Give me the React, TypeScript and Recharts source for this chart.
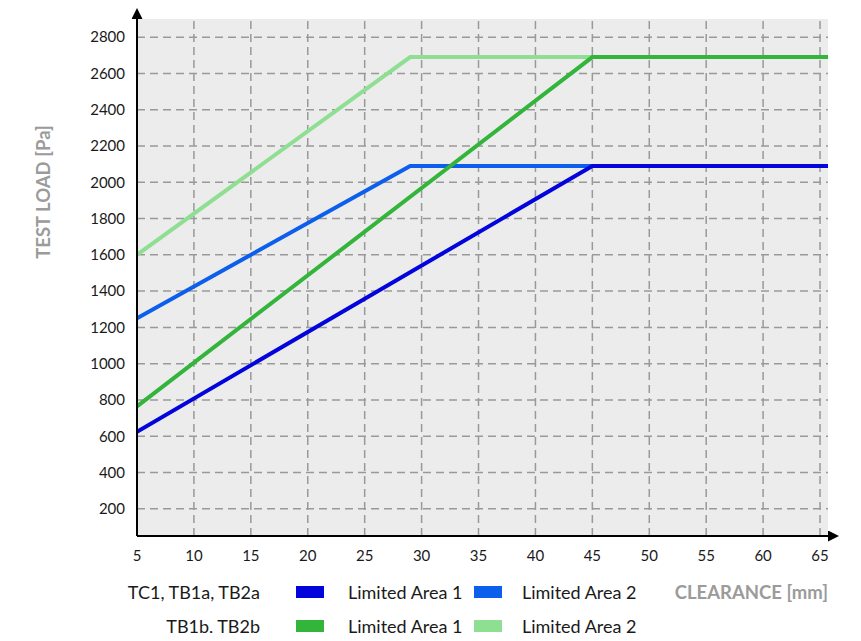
import React from 'react';
import { LineChart, Line, XAxis, YAxis, CartesianGrid, ReferenceLine } from 'recharts';

// clearance [mm] at the corners of each curve
const clearanceArea1 = [5, 45, 65.7];
const clearanceArea2 = [5, 29, 65.7];

// test load [Pa] at those corners
const tc1Area1Load = [625, 2090, 2090];
const tc1Area2Load = [1250, 2090, 2090];
const tb1bArea1Load = [765, 2690, 2690];
const tb1bArea2Load = [1600, 2690, 2690];

const xTicks = [5, 10, 15, 20, 25, 30, 35, 40, 45, 50, 55, 60, 65];
const yTicks = [200, 400, 600, 800, 1000, 1200, 1400, 1600, 1800, 2000, 2200, 2400, 2600, 2800];

const COLORS = {
    tc1Area1: '#0303dc',
    tc1Area2: '#0b5fec',
    tb1bArea1: '#33b43a',
    tb1bArea2: '#8edf92',
};

const toPoints = (xs: number[], ys: number[]) => xs.map((x, i) => ({ x, y: ys[i] }));

const FONT = 'Lato, "Open Sans", sans-serif';
const GREY = '#9b9b9b';
const GRID = { stroke: '#999', strokeWidth: 1.5, strokeDasharray: '8 5' };

const labelStyle: React.CSSProperties = {
    position: 'absolute',
    fontSize: 18,
    lineHeight: '20px',
    height: 20,
    color: '#1a1a1a',
    whiteSpace: 'nowrap',
};

const swatch = (color: string, left: number, top: number): React.CSSProperties => ({
    position: 'absolute',
    left,
    top,
    width: 28,
    height: 12,
    background: color,
});

const App: React.FC = () => {
    const tickStyle = { fontSize: 15, fill: '#1a1a1a', fontFamily: FONT };

    return (
        <div style={{ position: 'relative', width: 845, height: 625, fontFamily: FONT }}>
            <LineChart width={845} height={560} margin={{ top: 11, right: 25, left: 0, bottom: 0 }}>
                <defs>
                    <marker
                        id="arrowHead"
                        viewBox="0 0 10 10"
                        refX={0}
                        refY={5}
                        markerWidth={11}
                        markerHeight={11}
                        markerUnits="userSpaceOnUse"
                        orient="auto-start-reverse"
                    >
                        <path d="M0,0 L10,5 L0,10 z" fill="#000" />
                    </marker>
                </defs>
                {/* background only; dashed grid drawn with reference lines at the ticks */}
                <CartesianGrid fill="#ececec" horizontal={false} vertical={false} />
                {xTicks.slice(1).map((t) => (
                    <ReferenceLine key={`vx${t}`} x={t} {...GRID} />
                ))}
                {yTicks.map((t) => (
                    <ReferenceLine key={`hy${t}`} y={t} {...GRID} />
                ))}
                <XAxis
                    dataKey="x"
                    type="number"
                    domain={[5, 65.7]}
                    ticks={xTicks}
                    height={32}
                    tickLine={false}
                    tickSize={0}
                    tickMargin={14}
                    tick={tickStyle}
                    axisLine={{ stroke: '#000', strokeWidth: 2, markerEnd: 'url(#arrowHead)' }}
                    allowDataOverflow
                />
                <YAxis
                    dataKey="y"
                    type="number"
                    domain={[50, 2900]}
                    ticks={yTicks}
                    width={129}
                    tickLine={false}
                    tickSize={0}
                    tickMargin={12}
                    tick={tickStyle}
                    axisLine={{ stroke: '#000', strokeWidth: 2, markerStart: 'url(#arrowHead)' }}
                    allowDataOverflow
                />
                <Line
                    data={toPoints(clearanceArea2, tb1bArea2Load)}
                    dataKey="y"
                    stroke={COLORS.tb1bArea2}
                    strokeWidth={4}
                    dot={false}
                    activeDot={false}
                    type="linear"
                    isAnimationActive={false}
                />
                <Line
                    data={toPoints(clearanceArea2, tc1Area2Load)}
                    dataKey="y"
                    stroke={COLORS.tc1Area2}
                    strokeWidth={4}
                    dot={false}
                    activeDot={false}
                    type="linear"
                    isAnimationActive={false}
                />
                <Line
                    data={toPoints(clearanceArea1, tc1Area1Load)}
                    dataKey="y"
                    stroke={COLORS.tc1Area1}
                    strokeWidth={4}
                    dot={false}
                    activeDot={false}
                    type="linear"
                    isAnimationActive={false}
                />
                <Line
                    data={toPoints(clearanceArea1, tb1bArea1Load)}
                    dataKey="y"
                    stroke={COLORS.tb1bArea1}
                    strokeWidth={4}
                    dot={false}
                    activeDot={false}
                    type="linear"
                    isAnimationActive={false}
                />
            </LineChart>

            {/* y axis title */}
            <div
                style={{
                    position: 'absolute',
                    left: 35,
                    top: 184,
                    transform: 'translate(-50%, -50%) rotate(-90deg)',
                    fontSize: 18.5,
                    fontWeight: 700,
                    color: GREY,
                    whiteSpace: 'nowrap',
                }}
            >
                TEST LOAD [Pa]
            </div>

            {/* legend row 1 */}
            <div style={{ ...labelStyle, right: 593, top: 574 }}>TC1, TB1a, TB2a</div>
            <div style={swatch(COLORS.tc1Area1, 288, 578)} />
            <div style={{ ...labelStyle, left: 340, top: 574 }}>Limited Area 1</div>
            <div style={swatch(COLORS.tc1Area2, 466, 578)} />
            <div style={{ ...labelStyle, left: 514, top: 574 }}>Limited Area 2</div>
            <div style={{ ...labelStyle, right: 25, top: 574, color: GREY, fontWeight: 700, fontSize: 18.5 }}>
                CLEARANCE [mm]
            </div>

            {/* legend row 2 */}
            <div style={{ ...labelStyle, right: 593, top: 608 }}>TB1b, TB2b</div>
            <div style={swatch(COLORS.tb1bArea1, 288, 612)} />
            <div style={{ ...labelStyle, left: 340, top: 608 }}>Limited Area 1</div>
            <div style={swatch(COLORS.tb1bArea2, 466, 612)} />
            <div style={{ ...labelStyle, left: 514, top: 608 }}>Limited Area 2</div>
        </div>
    );
};

export default App;
